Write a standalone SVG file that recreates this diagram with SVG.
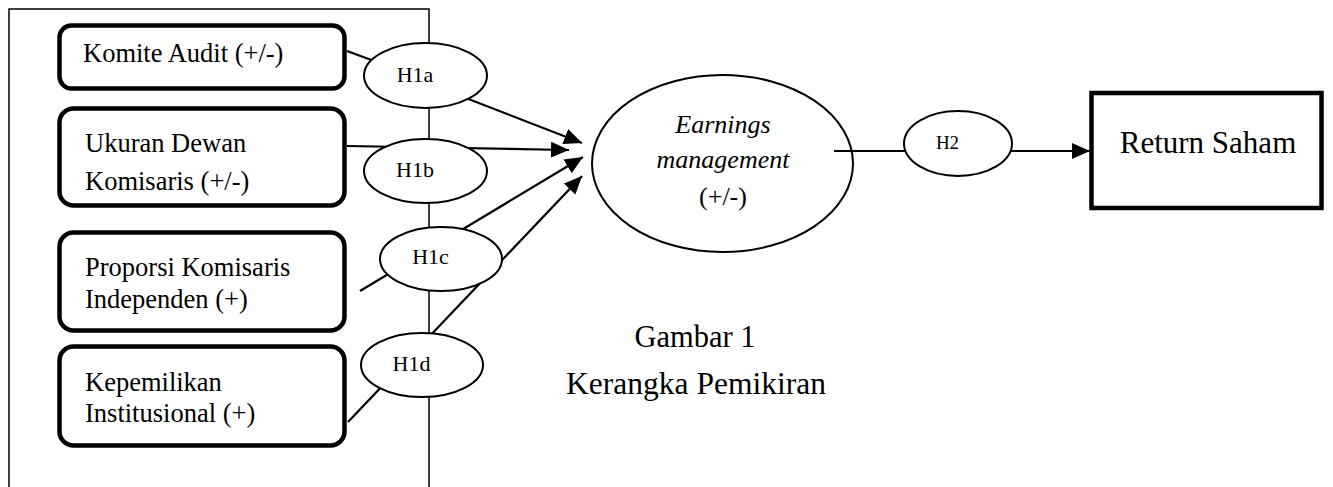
<svg xmlns="http://www.w3.org/2000/svg" width="1333" height="487" viewBox="0 0 1333 487">
<style>
.t{font-family:"Liberation Serif","Times New Roman",serif;fill:#000}
.box{fill:#fff;stroke:#000;stroke-width:4.5}
.ell{fill:#fff;stroke:#000;stroke-width:2}
.ln{fill:none;stroke:#000;stroke-width:2.2}
.fr{fill:none;stroke:#000;stroke-width:1.5}
</style>
<defs>
<marker id="ah" markerUnits="userSpaceOnUse" markerWidth="19" markerHeight="17" refX="18" refY="8" orient="auto">
<path d="M0,0 L18,8 L0,16 z" fill="#000"/>
</marker>
</defs>
<rect width="1333" height="487" fill="#fff"/>
<g id="frame">
<path class="fr" d="M9,487 V9 H429 V487"/>
</g>
<g id="komite">
<rect class="box" x="59.5" y="25.5" width="285" height="63" rx="12"/>
<text class="t" x="83" y="62" font-size="26.5">Komite Audit (+/-)</text>
</g>
<g id="ukuran">
<rect class="box" x="59.5" y="108.5" width="285" height="97" rx="14"/>
<text class="t" x="85" y="152" font-size="26.5">Ukuran Dewan</text>
<text class="t" x="85" y="190" font-size="26.5">Komisaris (+/-)</text>
</g>
<g id="proporsi">
<rect class="box" x="59.5" y="232.5" width="285" height="98" rx="14"/>
<text class="t" x="85" y="276" font-size="26.5">Proporsi Komisaris</text>
<text class="t" x="85" y="308" font-size="26.5">Independen (+)</text>
</g>
<g id="kepemilikan">
<rect class="box" x="59.5" y="346.5" width="285" height="99" rx="14"/>
<text class="t" x="85" y="391" font-size="26.5">Kepemilikan</text>
<text class="t" x="85" y="422" font-size="26.5">Institusional (+)</text>
</g>
<g id="earnings">
<ellipse cx="722.5" cy="163.5" rx="130.5" ry="88.5" fill="#fff" stroke="#000" stroke-width="2"/>
<text class="t" x="723" y="133" font-size="26" font-style="italic" text-anchor="middle">Earnings</text>
<text class="t" x="723" y="168" font-size="26" font-style="italic" text-anchor="middle">management</text>
<text class="t" x="723" y="205" font-size="26" text-anchor="middle">(+/-)</text>
</g>
<g id="connectors">
<line class="ln" x1="347" y1="51" x2="385" y2="65"/>
<line class="ln" x1="440" y1="88" x2="582" y2="143" marker-end="url(#ah)"/>
<line class="ln" x1="347" y1="146" x2="569" y2="150" marker-end="url(#ah)"/>
<line class="ln" x1="360" y1="291" x2="583" y2="157" marker-end="url(#ah)"/>
<line class="ln" x1="348" y1="422" x2="582" y2="176" marker-end="url(#ah)"/>
<line class="ln" x1="834" y1="151" x2="1090" y2="151" marker-end="url(#ah)"/>
</g>
<g id="h1a">
<ellipse class="ell" cx="425.5" cy="75.5" rx="61.5" ry="32.5"/>
<text class="t" x="415" y="82" font-size="22" text-anchor="middle">H1a</text>
</g>
<g id="h1b">
<ellipse class="ell" cx="425.5" cy="171" rx="61.5" ry="32"/>
<text class="t" x="415" y="177" font-size="22" text-anchor="middle">H1b</text>
</g>
<g id="h1c">
<ellipse class="ell" cx="441" cy="259" rx="61" ry="32"/>
<text class="t" x="430.5" y="264" font-size="22" text-anchor="middle">H1c</text>
</g>
<g id="h1d">
<ellipse class="ell" cx="422" cy="365" rx="61" ry="32"/>
<text class="t" x="411.5" y="371" font-size="22" text-anchor="middle">H1d</text>
</g>
<g id="h2">
<ellipse class="ell" cx="958" cy="143.5" rx="54" ry="32.5"/>
<text class="t" x="947.5" y="149" font-size="19" text-anchor="middle">H2</text>
</g>
<g id="return">
<rect class="box" x="1091.5" y="93" width="230" height="115"/>
<text class="t" x="1208" y="153" font-size="31" text-anchor="middle">Return Saham</text>
</g>
<g id="caption">
<text class="t" x="695" y="347" font-size="30.5" text-anchor="middle">Gambar 1</text>
<text class="t" x="696" y="394" font-size="31.5" text-anchor="middle">Kerangka Pemikiran</text>
</g>
</svg>
